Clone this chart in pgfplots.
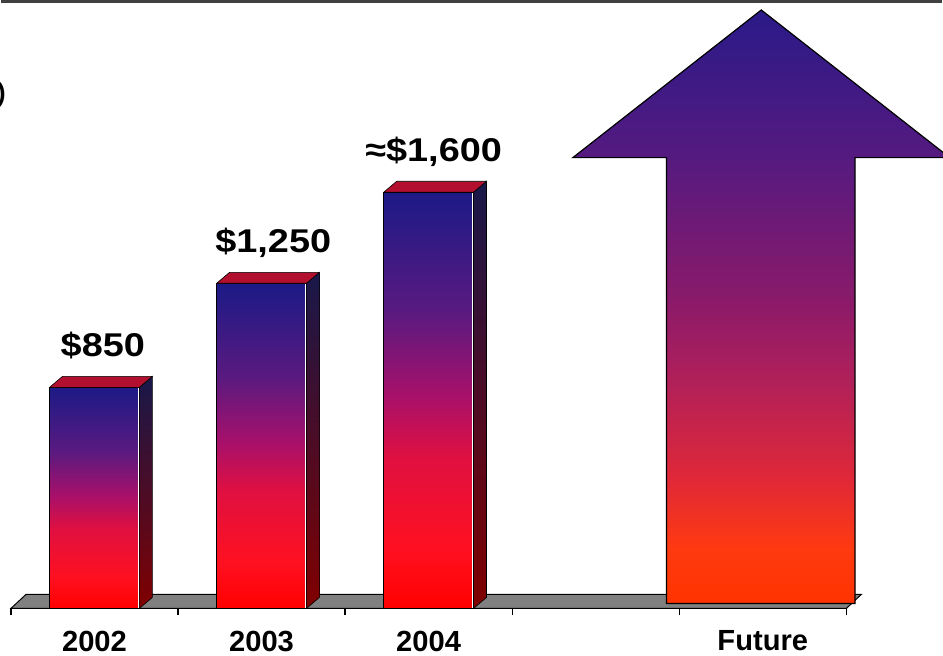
\documentclass[border=0pt]{standalone}
\usepackage{pgfplots}
\pgfplotsset{compat=1.18}
\usepackage{fontspec}
\setmainfont{Liberation Sans}
\newfontfamily\lblfont{Liberation Sans}[FakeStretch=1.15]
\definecolor{cR}{HTML}{FF0000}
\definecolor{cR2}{HTML}{FF1020}
\definecolor{cR3}{HTML}{E01040}
\definecolor{cM}{HTML}{A8106A}
\definecolor{cP}{HTML}{5A1A80}
\definecolor{cB}{HTML}{1C1A86}
\pgfdeclareverticalshading{bargrad}{100bp}{color(0bp)=(cR); color(25bp)=(cR); color(32bp)=(cR2); color(43bp)=(cR3); color(50.5bp)=(cM); color(60.5bp)=(cP); color(75bp)=(cB); color(100bp)=(cB)}
\definecolor{aT}{HTML}{2A1A88}
\definecolor{a1}{HTML}{551A80}
\definecolor{a2}{HTML}{8A1A6A}
\definecolor{a3}{HTML}{B0205A}
\definecolor{a4}{HTML}{E02838}
\definecolor{a5}{HTML}{FF3A10}
\definecolor{aB}{HTML}{FF3300}
\pgfdeclareverticalshading{arrowgrad}{100bp}{color(0bp)=(aB); color(25bp)=(aB); color(29.6bp)=(a5); color(35.5bp)=(a4); color(43.9bp)=(a3); color(50.6bp)=(a2); color(62.6bp)=(a1); color(75bp)=(aT); color(100bp)=(aT)}
\definecolor{sT}{HTML}{18184A}
\definecolor{sM}{HTML}{4A1045}
\definecolor{sB}{HTML}{800000}
\definecolor{topface}{HTML}{B31030}
\definecolor{floorgray}{HTML}{808080}
\pgfplotsset{frontbar/.style={ybar, bar width=0.537, draw=black, line width=0.4pt, shade, shading=bargrad}}
\begin{document}
\begin{tikzpicture}
\begin{axis}[
  name=ax,
  at={(0,0)}, anchor=south west,
  scale only axis,
  width=471.5pt, height=328.5pt,
  xmin=-0.5582, xmax=5.0716,
  ymin=-180.2, ymax=2339,
  axis x line=middle,
  axis y line=none,
  x axis line style={draw=none},
  xtick={0,1,2,4},
  xticklabels={2002,2003,2004,Future},
  major tick length=0pt,
  minor xtick={-0.5,0.5,1.5,2.5,3.5,4.5},
  minor tick length=3.5pt,
  tick align=outside,
  minor tick style={black, line width=0.6pt},
  xticklabel style={font=\bfseries\fontsize{14.6}{17}\selectfont, anchor=north, inner sep=0pt, yshift=-11pt},
  clip=false,
]
% floor
\addplot[fill=floorgray, draw=black, line width=0.5pt] coordinates {(-0.5,0) (4.5,0) (4.5896,53.7) (-0.4104,53.7)} -- cycle;
% front faces of bars (one plot per bar so each gets its own gradient)
\addplot[frontbar] coordinates {(0,850)};
\addplot[frontbar] coordinates {(1,1250)};
\addplot[frontbar] coordinates {(2,1600)};
% white edges
\addplot[white, line width=0.7pt, unbounded coords=jump] coordinates {(0.2637,3) (0.2637,846) (0.2637,nan) (1.2637,3) (1.2637,1246) (1.2637,nan) (2.2637,3) (2.2637,1596)};
% side faces
\addplot[draw=black, line width=0.3pt, top color=sT, middle color=sM, bottom color=sB] coordinates {(0.2687,0) (0.3463,42.2) (0.3463,892.2) (0.2687,850)} -- cycle;
\addplot[draw=black, line width=0.3pt, top color=sT, middle color=sM, bottom color=sB] coordinates {(1.2687,0) (1.3463,42.2) (1.3463,1292.2) (1.2687,1250)} -- cycle;
\addplot[draw=black, line width=0.3pt, top color=sT, middle color=sM, bottom color=sB] coordinates {(2.2687,0) (2.3463,42.2) (2.3463,1642.2) (2.2687,1600)} -- cycle;
% top faces
\addplot[fill=topface, draw=black, line width=0.3pt] coordinates {(-0.2687,850) (-0.1911,892.2) (0.3463,892.2) (0.2687,850)} -- cycle;
\addplot[fill=topface, draw=black, line width=0.3pt] coordinates {(0.7313,1250) (0.8089,1292.2) (1.3463,1292.2) (1.2687,1250)} -- cycle;
\addplot[fill=topface, draw=black, line width=0.3pt] coordinates {(1.7313,1600) (1.8089,1642.2) (2.3463,1642.2) (2.2687,1600)} -- cycle;
% future arrow
\addplot[draw=black, line width=0.6pt, shade, shading=arrowgrad] coordinates {(3.424,19.2) (4.552,19.2) (4.552,1733) (5.119,1733) (3.991,2300.6) (2.863,1733) (3.424,1733)} -- cycle;
% value labels
\addplot[draw=none, nodes near coords, point meta=explicit symbolic,
  nodes near coords style={anchor=base, inner sep=0pt, yshift=15.6pt, font=\lblfont\bfseries\fontsize{16.5}{18}\selectfont, text=black}]
  coordinates {(0.05,850) [\$850] (1.07,1250) [\$1,250] (2.03,1600) [≈\$1,600]};
% cropped text at left
\node[anchor=east, inner sep=0pt, font=\bfseries\fontsize{13}{15}\selectfont] at (axis cs:-0.528,1975) {)};
\end{axis}
\pgfresetboundingbox
\path (ax.south west) rectangle (ax.north east);
\draw[line width=1.2pt, black!75] ([yshift=-0.75pt]ax.north west) -- ([yshift=-0.75pt]ax.north east);
\end{tikzpicture}
\end{document}
